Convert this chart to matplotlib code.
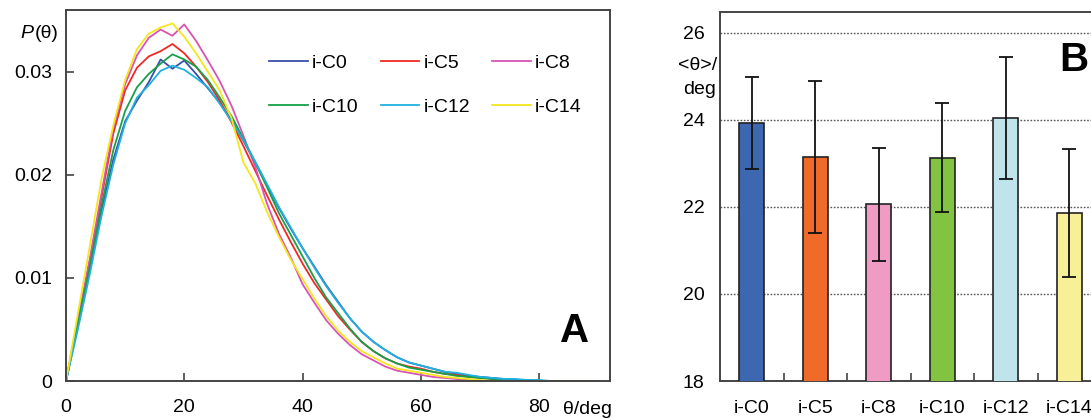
import numpy as np
import matplotlib
matplotlib.use('Agg')
import matplotlib.pyplot as plt

plt.rcParams['font.family'] = ['Liberation Sans', 'DejaVu Sans']
plt.rcParams['font.size'] = 14

#%% Datos
# distribución del ángulo de inclinación P(theta), cada 2 grados
theta = np.arange(0, 91, 2)

p_C0 = [0, 0.0055, 0.0108, 0.0165, 0.0215, 0.0252, 0.0272, 0.0290, 0.0312, 0.0303,
        0.0311, 0.0298, 0.0284, 0.0270, 0.0253, 0.0233, 0.0212, 0.0190, 0.0168, 0.0148,
        0.0129, 0.0111, 0.0093, 0.0077, 0.0061, 0.0048, 0.0038, 0.0030, 0.0023, 0.0018,
        0.0015, 0.0012, 0.0009, 0.0007, 0.0005, 0.0004, 0.0003, 0.0002, 0.0001, 0.0001,
        0, 0, 0, 0, 0, 0]
p_C5 = [0, 0.0057, 0.0115, 0.0178, 0.0240, 0.0282, 0.0304, 0.0315, 0.0320, 0.0327,
        0.0318, 0.0305, 0.0290, 0.0272, 0.0251, 0.0228, 0.0204, 0.0180, 0.0157, 0.0135,
        0.0114, 0.0095, 0.0079, 0.0063, 0.0050, 0.0038, 0.0029, 0.0022, 0.0017, 0.0014,
        0.0012, 0.0009, 0.0007, 0.0006, 0.0004, 0.0003, 0.0002, 0.0001, 0, 0,
        0, 0, 0, 0, 0, 0]
p_C8 = [0, 0.0060, 0.0118, 0.0182, 0.0245, 0.0288, 0.0316, 0.0333, 0.0341, 0.0335,
        0.0346, 0.0330, 0.0311, 0.0291, 0.0267, 0.0238, 0.0208, 0.0172, 0.0143, 0.0120,
        0.0094, 0.0076, 0.0059, 0.0046, 0.0035, 0.0026, 0.0020, 0.0014, 0.0010, 0.0008,
        0.0006, 0.0004, 0.0003, 0.0002, 0.0001, 0, 0, 0, 0, 0,
        0, 0, 0, 0, 0, 0]
p_C10 = [0, 0.0055, 0.0110, 0.0170, 0.0224, 0.0262, 0.0285, 0.0298, 0.0308, 0.0317,
         0.0312, 0.0305, 0.0292, 0.0275, 0.0257, 0.0235, 0.0212, 0.0188, 0.0163, 0.0142,
         0.0121, 0.0100, 0.0081, 0.0066, 0.0051, 0.0038, 0.0029, 0.0022, 0.0017, 0.0013,
         0.0011, 0.0009, 0.0007, 0.0005, 0.0004, 0.0003, 0.0002, 0.0001, 0, 0,
         0, 0, 0, 0, 0, 0]
p_C12 = [0, 0.0050, 0.0103, 0.0160, 0.0210, 0.0250, 0.0275, 0.0287, 0.0301, 0.0306,
         0.0302, 0.0294, 0.0285, 0.0269, 0.0252, 0.0234, 0.0213, 0.0191, 0.0169, 0.0149,
         0.0129, 0.0110, 0.0092, 0.0076, 0.0061, 0.0048, 0.0038, 0.0030, 0.0023, 0.0018,
         0.0015, 0.0012, 0.0009, 0.0008, 0.0006, 0.0004, 0.0003, 0.0002, 0.0002, 0.0001,
         0.0001, 0, 0, 0, 0, 0]
p_C14 = [0, 0.0065, 0.0130, 0.0196, 0.0248, 0.0292, 0.0322, 0.0337, 0.0343, 0.0347,
         0.0334, 0.0318, 0.0300, 0.0282, 0.0255, 0.0212, 0.0192, 0.0164, 0.0140, 0.0118,
         0.0099, 0.0080, 0.0063, 0.0049, 0.0038, 0.0029, 0.0023, 0.0017, 0.0012, 0.0010,
         0.0008, 0.0006, 0.0004, 0.0003, 0.0002, 0.0001, 0, 0, 0, 0,
         0, 0, 0, 0, 0, 0]

# ángulo medio <theta> con su desviación
sistemas  = ['i-C0', 'i-C5', 'i-C8', 'i-C10', 'i-C12', 'i-C14']
theta_med = [23.93, 23.15, 22.06, 23.13, 24.04, 21.86]
theta_err = [1.06, 1.74, 1.30, 1.25, 1.40, 1.48]

col_lin = ['#3a4fa8', '#ee2a24', '#d654b4', '#17a04a', '#1fb2e0', '#f5e61c']
col_bar = ['#3d67b0', '#f06a2a', '#f09bc4', '#82c341', '#c0e4ec', '#f7f099']

curvas = [p_C0, p_C5, p_C8, p_C10, p_C12, p_C14]

#%% Figura
fig = plt.figure(figsize=(10.91, 4.18), dpi=100)
W, H = 1091, 418

def caja(x0, y0, x1, y1):
    # caja en pixeles (origen arriba a la izquierda) -> fracción de figura
    return [x0/W, 1 - y1/H, (x1 - x0)/W, (y1 - y0)/H]

spine_col = '#444444'

# Panel A ######################################################################
ax = fig.add_axes(caja(66, 10, 610, 381))
orden = [0, 1, 3, 4, 5, 2]
for i in orden:
    ax.plot(theta, curvas[i], color=col_lin[i], lw=1.3, label=sistemas[i], zorder=2 + i*0.1)

ax.set_xlim(0, 92)
ax.set_ylim(0, 0.036)
ax.set_xticks([0, 20, 40, 60, 80])
ax.set_yticks([0, 0.01, 0.02, 0.03])
ax.set_yticklabels(['0', '0.01', '0.02', '0.03'])
ax.tick_params(direction='in', length=6, width=1.2, color=spine_col)
ax.tick_params(axis='x', pad=13)
ax.tick_params(axis='y', pad=10)
for s in ax.spines.values():
    s.set_color(spine_col)
    s.set_linewidth(1.4)

h, l = ax.get_legend_handles_labels()
idx = [l.index(s) for s in sistemas]
# matplotlib llena la leyenda por columnas
ord_leg = [idx[0], idx[3], idx[1], idx[4], idx[2], idx[5]]
ax.legend([h[k] for k in ord_leg], [l[k] for k in ord_leg], ncol=3, frameon=False,
          loc='upper left', bbox_to_anchor=(0.355, 0.907), borderpad=0,
          handlelength=2.0, handletextpad=0.2, columnspacing=1.15, labelspacing=1.35)

ax.text(0.935, 0.135, 'A', transform=ax.transAxes, fontsize=29, fontweight='bold',
        ha='center', va='center')
fig.text(20/W, 1 - 33/H, 'P', fontstyle='italic', ha='left', va='center')
fig.text(35/W, 1 - 33/H, '(θ)', ha='left', va='center')
fig.text(587/W, 1 - 409/H, 'θ/deg', ha='center', va='center')

# Panel B ######################################################################
bx = fig.add_axes(caja(720, 12, 1101, 381))
x = np.arange(len(sistemas))
bx.bar(x, theta_med, width=0.39, bottom=0, color=col_bar, edgecolor='#222222',
       lw=1.2, zorder=3)
bx.errorbar(x, theta_med, yerr=theta_err, fmt='none', ecolor='#111111',
            elinewidth=1.3, capsize=5, capthick=1.3, zorder=4)

bx.set_xlim(-0.5, 5.5)
bx.set_ylim(18, 26.48)
bx.set_yticks([18, 20, 22, 24, 26])
bx.set_xticks(x)
bx.set_xticklabels(sistemas)
bx.set_xticks(x[:-1] + 0.5, minor=True)
bx.tick_params(axis='x', which='major', length=0, pad=14)
bx.tick_params(axis='x', which='minor', direction='in', length=6, width=1.2, color=spine_col)
bx.tick_params(axis='y', length=0, pad=11)
bx.grid(axis='y', ls=(0, (1.2, 1.2)), color='#555555', lw=1.0, zorder=0)
for s in bx.spines.values():
    s.set_color(spine_col)
    s.set_linewidth(1.4)
bx.spines['right'].set_visible(False)

fig.text(1074/W, 1 - 60/H, 'B', fontsize=29, fontweight='bold', ha='center', va='center')
fig.text(698/W, 1 - 65/H, '<θ>/', ha='center', va='center')
fig.text(700/W, 1 - 89/H, 'deg', ha='center', va='center')

fig.savefig('out.png', dpi=100)
